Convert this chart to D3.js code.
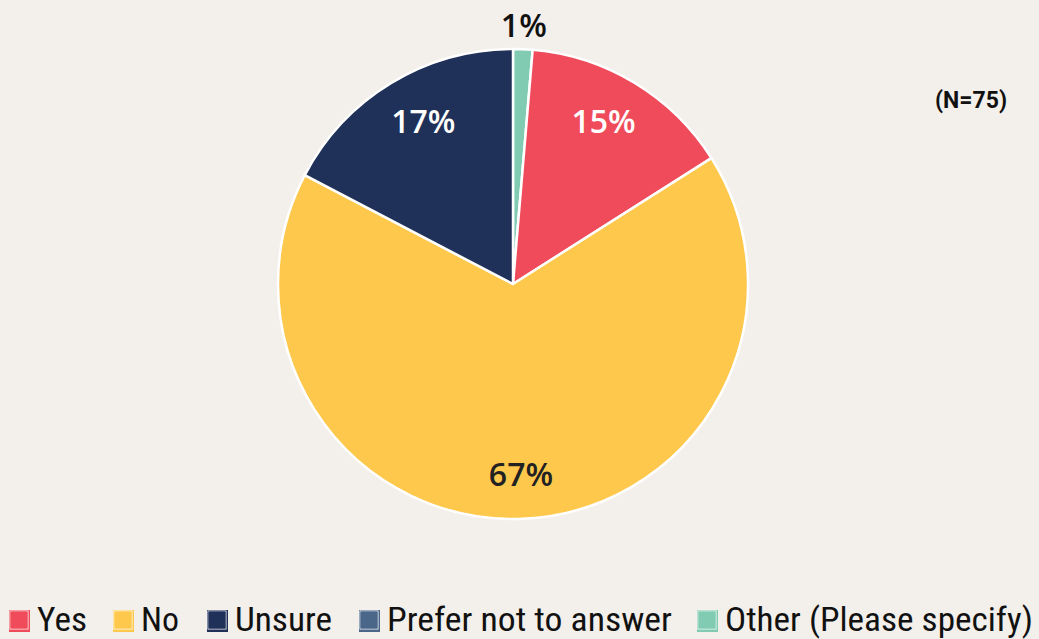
<!DOCTYPE html>
<html><head><meta charset="utf-8">
<script src="https://cdn.jsdelivr.net/npm/d3@7"></script>
<style>
html,body{margin:0;padding:0;background:#f3efeb;}
svg{display:block;}
</style></head>
<body>
<svg id="chart" width="1039" height="639"></svg>
<script>
// Data (legend order)
const categories = ["Yes", "No", "Unsure", "Prefer not to answer", "Other (Please specify)"];
const counts = [11, 50, 13, 0, 1];
const percentLabels = ["15%", "67%", "17%", "0%", "1%"];
const colors = ["#ef4b5a", "#fec84d", "#1f3158", "#4a6689", "#80cbb1"];
// Drawing order around the pie, clockwise from 12 o'clock
const pieOrder = ["Other (Please specify)", "Yes", "No", "Unsure", "Prefer not to answer"];
const labelColors = {"Yes":"#ffffff","No":"#222222","Unsure":"#ffffff","Prefer not to answer":"#ffffff","Other (Please specify)":"#111111"};
const note = "(N=75)";

const svg = d3.select("#chart");
const cx = 513, cy = 284, R = 235;

const data = categories.map((c,i)=>({cat:c, value:counts[i], label:percentLabels[i], color:colors[i]}));
const ordered = pieOrder.map(c => data.find(d=>d.cat===c));

const pie = d3.pie().sort(null).value(d=>d.value).startAngle(0).endAngle(2*Math.PI);
const arcs = pie(ordered);
const arc = d3.arc().innerRadius(0).outerRadius(R);

const g = svg.append("g").attr("transform",`translate(${cx},${cy})`);
g.selectAll("path").data(arcs.filter(a=>a.data.value>0)).join("path")
  .attr("d", arc)
  .attr("fill", d=>d.data.color)
  .attr("stroke", "#ffffff")
  .attr("stroke-width", 2.5)
  .attr("stroke-linejoin","round");

// Labels
g.selectAll("text.lbl").data(arcs.filter(a=>a.data.value>0)).join("text")
  .attr("class","lbl")
  .attr("transform", d=>{
    const share = (d.endAngle-d.startAngle)/(2*Math.PI);
    let a = (d.startAngle+d.endAngle)/2;
    let r;
    if (share < 0.05) r = R*1.1;
    else if (share > 0.5) r = R*0.81;
    else { r = R*0.79; a = a + (a > Math.PI ? 0.04 : -0.035); }
    return `translate(${r*Math.sin(a)},${-r*Math.cos(a)})`;
  })
  .attr("text-anchor","middle")
  .attr("dy","0.36em")
  .attr("font-family","'Open Sans', 'Noto Sans', sans-serif")
  .attr("font-weight",600)
  .attr("font-size",32)
  .attr("fill", d=>labelColors[d.data.cat])
  .text(d=>d.data.label);

// Note
svg.append("text")
  .attr("x", 1007).attr("y", 108)
  .attr("text-anchor","end")
  .attr("font-family","Roboto, 'Liberation Sans', sans-serif")
  .attr("font-weight",700)
  .attr("font-size",23)
  .attr("fill","#111")
  .text(note);

// Legend
const legendX = [9, 113, 207, 359, 697];
const legendTextW = [50, 38, 97, 285, 308];
const lg = svg.append("g");
data.forEach((d,i)=>{
  const x = legendX[i];
  lg.append("rect").attr("x",x).attr("y",610).attr("width",21).attr("height",22).attr("fill",d.color);
  lg.append("rect").attr("x",x+1).attr("y",611).attr("width",18).attr("height",18)
    .attr("fill","none").attr("stroke","#ffffff").attr("stroke-width",1).attr("opacity",0.9);
  lg.append("rect").attr("x",x+1.5).attr("y",611.5).attr("width",17).attr("height",17).attr("fill",d.color);
  const t = lg.append("text")
    .attr("x", x+28).attr("y", 631)
    .attr("font-family","'Roboto Condensed','Liberation Sans Narrow','Roboto', sans-serif")
    .attr("font-size",34)
    .attr("fill","#111")
    .text(d.cat);
  const w = t.node().getComputedTextLength();
  const s = legendTextW[i] / w;
  t.attr("transform", `translate(${x+28},0) scale(${s},1) translate(${-(x+28)},0)`);
});
</script>
</body></html>
